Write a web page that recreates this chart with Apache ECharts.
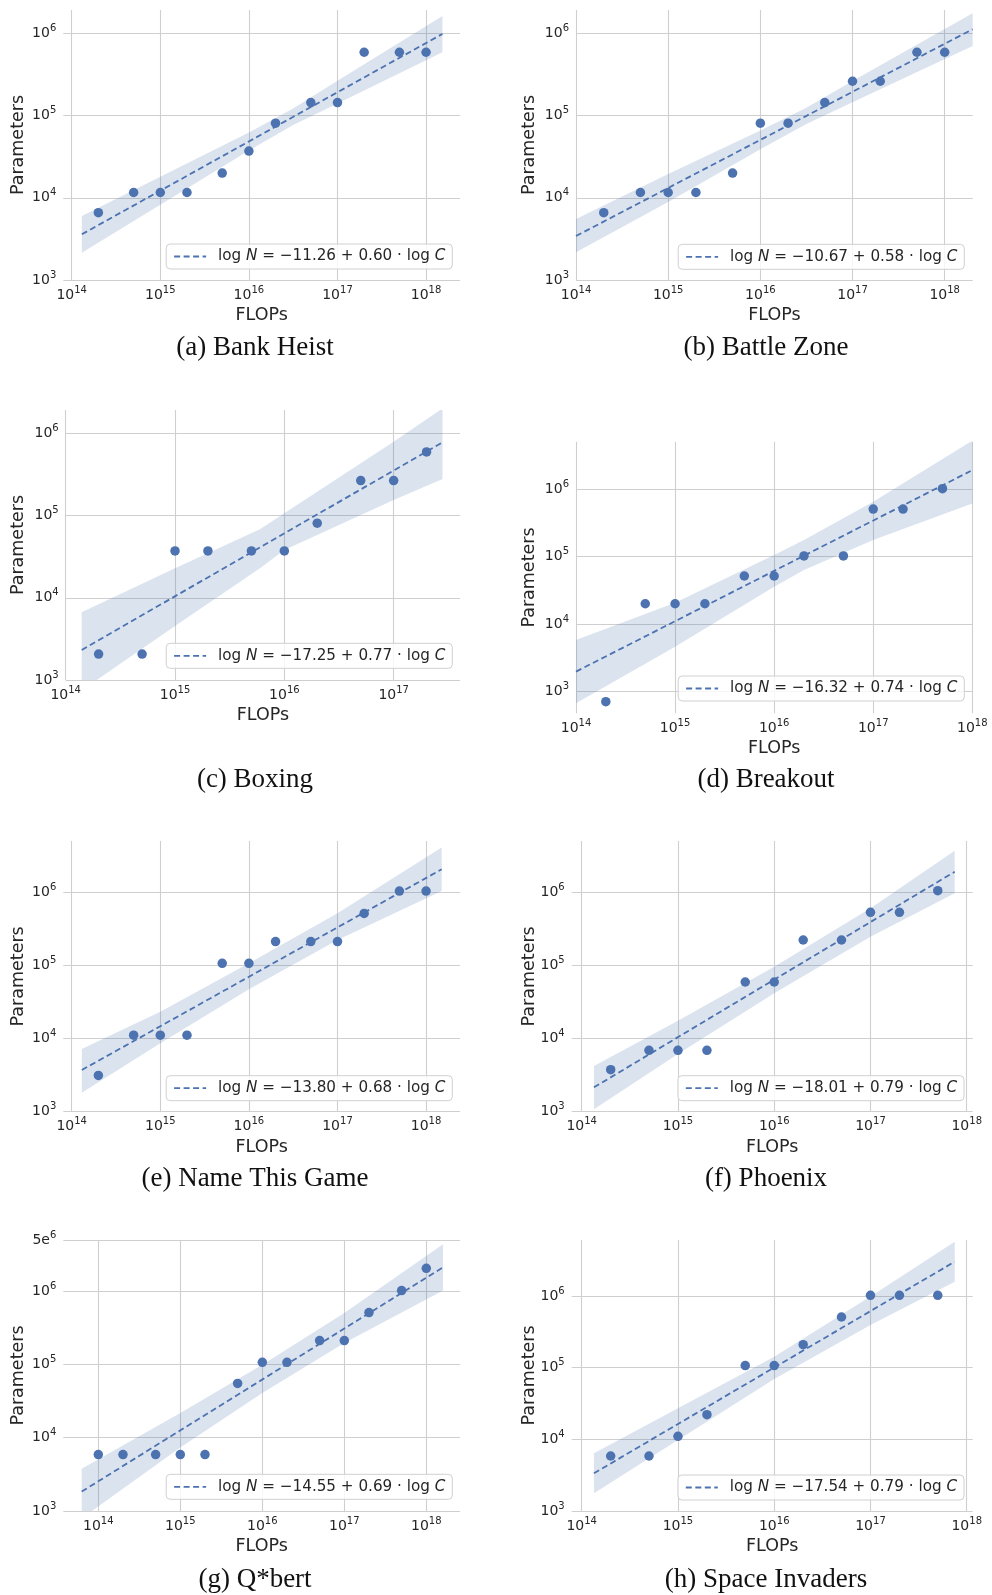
<!DOCTYPE html>
<html>
<head>
<meta charset="utf-8">
<script src="https://cdn.jsdelivr.net/npm/echarts@6.0.0/dist/echarts.min.js"></script>
<style>
html,body{margin:0;padding:0;background:#ffffff;}
#chart{width:992px;height:1595px;}
</style>
</head>
<body>
<div id="chart"></div>
<script>
// ---------------- DATA ----------------
const panelCaptions = ['(a) Bank Heist', '(b) Battle Zone', '(c) Boxing', '(d) Breakout',
  '(e) Name This Game', '(f) Phoenix', '(g) Q*bert', '(h) Space Invaders'];
const fitIntercepts = ['\u221211.26', '\u221210.67', '\u221217.25', '\u221216.32', '\u221213.80', '\u221218.01', '\u221214.55', '\u221217.54'];
const fitSlopes = ['0.60', '0.58', '0.77', '0.74', '0.68', '0.79', '0.69', '0.79'];

const pointFlops = [
  [2e14, 5e14, 1e15, 2e15, 5e15, 1e16, 2e16, 5e16, 1e17, 2e17, 5e17, 1e18],
  [2e14, 5e14, 1e15, 2e15, 5e15, 1e16, 2e16, 5e16, 1e17, 2e17, 5e17, 1e18],
  [2e14, 5e14, 1e15, 2e15, 5e15, 1e16, 2e16, 5e16, 1e17, 2e17],
  [2e14, 5e14, 1e15, 2e15, 5e15, 1e16, 2e16, 5e16, 1e17, 2e17, 5e17],
  [2e14, 5e14, 1e15, 2e15, 5e15, 1e16, 2e16, 5e16, 1e17, 2e17, 5e17, 1e18],
  [2e14, 5e14, 1e15, 2e15, 5e15, 1e16, 2e16, 5e16, 1e17, 2e17, 5e17],
  [1e14, 2e14, 5e14, 1e15, 2e15, 5e15, 1e16, 2e16, 5e16, 1e17, 2e17, 5e17, 1e18],
  [2e14, 5e14, 1e15, 2e15, 5e15, 1e16, 2e16, 5e16, 1e17, 2e17, 5e17]
];
const pointParams = [
  [6.6e3, 1.16e4, 1.16e4, 1.16e4, 2.0e4, 3.7e4, 8.1e4, 1.44e5, 1.44e5, 5.9e5, 5.9e5, 5.9e5],
  [6.6e3, 1.16e4, 1.16e4, 1.16e4, 2.0e4, 8.1e4, 8.1e4, 1.44e5, 2.62e5, 2.62e5, 5.9e5, 5.9e5],
  [2.07e3, 2.07e3, 3.72e4, 3.72e4, 3.72e4, 3.72e4, 8.1e4, 2.67e5, 2.67e5, 5.96e5],
  [7.1e2, 2.0e4, 2.0e4, 2.0e4, 5.15e4, 5.15e4, 1.02e5, 1.02e5, 5.05e5, 5.05e5, 1.01e6],
  [3.13e3, 1.11e4, 1.11e4, 1.11e4, 1.06e5, 1.06e5, 2.1e5, 2.1e5, 2.1e5, 5.1e5, 1.03e6, 1.03e6],
  [3.75e3, 6.88e3, 6.88e3, 6.88e3, 5.9e4, 5.9e4, 2.21e5, 2.21e5, 5.27e5, 5.27e5, 1.04e6],
  [5.9e3, 5.9e3, 5.9e3, 5.9e3, 5.9e3, 5.52e4, 1.07e5, 1.07e5, 2.12e5, 2.12e5, 5.11e5, 1.02e6, 2.05e6],
  [5.85e3, 5.85e3, 1.1e4, 2.21e4, 1.07e5, 1.07e5, 2.09e5, 5.09e5, 1.02e6, 1.02e6, 1.02e6]
];

const fitFlops = [
  [1.30e14, 1.53e18], [1.0e14, 2.01e18], [1.40e14, 2.8e17], [1.0e14, 9.62e17],
  [1.30e14, 1.5e18], [1.34e14, 7.5e17], [6.27e13, 1.6e18], [1.34e14, 7.5e17]
];
const fitParams = [
  [3.6e3, 9.86e5], [3.43e3, 1.125e6], [2.32e3, 7.8e5], [1.98e3, 1.845e6],
  [3.71e3, 2.04e6], [2.15e3, 1.89e6], [1.84e3, 2.12e6], [3.36e3, 3.01e6]
];

const bandFlops = [
  [1.30e14, 1e15, 1e16, 3.16e16, 1e17, 1.53e18],
  [1e14, 1e15, 1e16, 3.16e16, 1e17, 2.01e18],
  [1.40e14, 1e15, 5.98e15, 1e16, 1e17, 2.8e17],
  [1e14, 1e15, 1e16, 2e16, 1e17, 1e18],
  [1.30e14, 1e15, 1e16, 1e17, 1.5e18],
  [1.34e14, 1e15, 1e16, 1e17, 7.5e17],
  [6.27e13, 1e15, 1e16, 1e17, 1.6e18],
  [1.34e14, 1e15, 1e16, 1e17, 7.5e17]
];
const bandUpper = [
  [6.0e3, 1.81e4, 6.25e4, 1.22e5, 2.66e5, 1.63e6],
  [5.52e3, 1.95e4, 6.61e4, 1.25e5, 2.63e5, 1.76e6],
  [6.67e3, 2.29e4, 6.82e4, 1.07e5, 7.96e5, 2.02e6],
  [5.82e3, 2.07e4, 1.05e5, 1.76e5, 6.49e5, 5.19e6],
  [7.18e3, 2.32e4, 1.06e5, 5.11e5, 4.06e6],
  [4.21e3, 1.75e4, 9.55e4, 5.98e5, 3.66e6],
  [3.76e3, 2.17e4, 9.93e4, 5.06e5, 4.36e6],
  [6.38e3, 2.71e4, 1.42e5, 9.80e5, 5.73e6]
];
const bandLower = [
  [2.15e3, 8.26e3, 3.77e4, 7.69e4, 1.40e5, 5.9e5],
  [2.17e3, 8.91e3, 3.89e4, 7.89e4, 1.45e5, 7.05e5],
  [7.48e2, 4.54e3, 2.29e4, 3.82e4, 1.55e5, 2.79e5],
  [6.71e2, 4.63e3, 3.58e4, 6.32e4, 1.76e5, 6.12e5],
  [1.82e3, 8.57e3, 4.68e4, 2.21e5, 1.03e6],
  [1.08e3, 6.12e3, 4.13e4, 2.45e5, 9.57e5],
  [7.94e2, 7.35e3, 4.07e4, 1.97e5, 1.02e6],
  [1.77e3, 9.80e3, 6.95e4, 3.94e5, 1.585e6]
];

const xTickValues = [
  [1e14, 1e15, 1e16, 1e17, 1e18], [1e14, 1e15, 1e16, 1e17, 1e18],
  [1e14, 1e15, 1e16, 1e17], [1e14, 1e15, 1e16, 1e17, 1e18],
  [1e14, 1e15, 1e16, 1e17, 1e18], [1e14, 1e15, 1e16, 1e17, 1e18],
  [1e14, 1e15, 1e16, 1e17, 1e18], [1e14, 1e15, 1e16, 1e17, 1e18]
];
const yTickValues = [
  [1e3, 1e4, 1e5, 1e6], [1e3, 1e4, 1e5, 1e6], [1e3, 1e4, 1e5, 1e6], [1e3, 1e4, 1e5, 1e6],
  [1e3, 1e4, 1e5, 1e6], [1e3, 1e4, 1e5, 1e6], [1e3, 1e4, 1e5, 1e6, 5e6], [1e3, 1e4, 1e5, 1e6]
];

// ---------------- LAYOUT ----------------
const gridBoxes = [
  [63.3, 10, 396.7, 270], [576, 10, 396.7, 270],
  [65.7, 410, 394.3, 270], [576, 441.7, 396.3, 271.6],
  [63.3, 841, 396.7, 270.7], [571.7, 841, 401, 270.7],
  [63.3, 1240, 396.7, 271], [571.7, 1240, 401, 271]
];
const xLogRange = [[13.905, 18.383], [14, 18.304], [14, 17.607], [14, 18],
  [13.905, 18.383], [13.896, 18.062], [13.573, 18.411], [13.896, 18.062]];
const yLogRange = [[3, 6.285], [3, 6.285], [3, 6.286], [2.679, 6.700],
  [3, 6.696], [3, 6.696], [3, Math.log10(5e6)], [3, 6.781]];
const yNameGap = [36, 37.7, 38.4, 37.7, 36, 33.4, 36, 33.4];
const legendRightTop = [[539.7, 244], [27.7, 244.3], [539.7, 643.3], [27.7, 676],
  [539.7, 1075.7], [28, 1075.7], [539.7, 1474.3], [28, 1475]];
const captionAt = [[255, 348], [766, 348], [255, 780], [766, 780],
  [255, 1179], [766, 1179], [255, 1580], [766, 1580]];

const BLUE = '#4c72b0';
const BAND = 'rgba(76,114,176,0.2)';
const GRIDC = '#cfcfcf';
const TXT = '#262626';
const FONT = "'DejaVu Sans', sans-serif";

function tickLabel(v, allowed) {
  if (!(v > 0)) return '';
  const e = Math.log10(v);
  for (const a of allowed) {
    const ea = Math.log10(a);
    if (Math.abs(e - ea) < 1e-4) {
      const r = Math.round(ea);
      if (Math.abs(ea - r) < 1e-9) return '{b|10}{s|' + r + '}';
      const ex = Math.floor(ea);
      const m = Math.round(a / Math.pow(10, ex));
      return '{b|' + m + 'e}{s|' + ex + '}';
    }
  }
  return '';
}
const tickRich = {
  b: { fontSize: 14, fontFamily: FONT, color: TXT, lineHeight: 20 },
  s: { fontSize: 10, fontFamily: FONT, color: TXT, lineHeight: 10, verticalAlign: 'top' }
};

const legendNames = fitIntercepts.map((c, i) => 'log N = ' + c + ' + ' + fitSlopes[i] + ' \u00b7 log C');

const grids = [], xAxes = [], yAxes = [], series = [], legends = [], graphics = [];

for (let i = 0; i < 8; i++) {
  const g = gridBoxes[i];
  grids.push({ left: g[0], top: g[1], width: g[2], height: g[3], containLabel: false, outerBoundsMode: 'none', show: false });
  xAxes.push({
    type: 'log', logBase: 10, gridIndex: i,
    min: Math.pow(10, xLogRange[i][0]), max: Math.pow(10, xLogRange[i][1]),
    splitNumber: 5,
    axisLine: { show: false }, axisTick: { show: false },
    splitLine: { show: false }, minorTick: { show: false }, minorSplitLine: { show: false },
    axisLabel: { margin: 5, showMinLabel: true, showMaxLabel: true, hideOverlap: false,
      fontSize: 14, fontFamily: FONT, color: TXT,
      formatter: (v) => tickLabel(v, xTickValues[i]), rich: tickRich },
    name: 'FLOPs', nameLocation: 'middle', nameGap: 26.5, nameMoveOverlap: false,
    nameTextStyle: { fontSize: 17.5, fontFamily: FONT, color: TXT }
  });
  yAxes.push({
    type: 'log', logBase: 10, gridIndex: i,
    min: Math.pow(10, yLogRange[i][0]), max: Math.pow(10, yLogRange[i][1]),
    splitNumber: 5,
    axisLine: { show: false }, axisTick: { show: false },
    splitLine: { show: false }, minorTick: { show: false }, minorSplitLine: { show: false },
    axisLabel: { margin: 7, showMinLabel: true, showMaxLabel: true, hideOverlap: false,
      fontSize: 14, fontFamily: FONT, color: TXT,
      formatter: (v) => tickLabel(v, yTickValues[i]), rich: tickRich },
    name: 'Parameters', nameLocation: 'middle', nameGap: yNameGap[i], nameMoveOverlap: false,
    nameTextStyle: { fontSize: 17.5, fontFamily: FONT, color: TXT }
  });

  // confidence band
  series.push({
    type: 'custom', xAxisIndex: i, yAxisIndex: i, z: 1, clip: true, silent: true,
    data: bandFlops[i].map((x, k) => [x, bandUpper[i][k], bandLower[i][k]]),
    encode: { x: 0, y: [1, 2] },
    renderItem: function (params, api) {
      if (params.dataIndex !== 0) return null;
      const pts = [];
      for (let k = 0; k < bandFlops[i].length; k++) pts.push(api.coord([bandFlops[i][k], bandUpper[i][k]]));
      for (let k = bandFlops[i].length - 1; k >= 0; k--) pts.push(api.coord([bandFlops[i][k], bandLower[i][k]]));
      return { type: 'polygon', shape: { points: pts }, style: { fill: BAND, stroke: null } };
    }
  });
  // fit line
  series.push({
    type: 'line', name: legendNames[i], xAxisIndex: i, yAxisIndex: i, z: 2, silent: true,
    data: fitFlops[i].map((x, k) => [x, fitParams[i][k]]),
    symbol: 'none', showSymbol: false,
    lineStyle: { color: BLUE, width: 1.8, type: [6, 3.5] },
    itemStyle: { color: BLUE }
  });
  // points + gridlines
  series.push({
    type: 'scatter', xAxisIndex: i, yAxisIndex: i, z: 3, silent: true,
    data: pointFlops[i].map((x, k) => [x, pointParams[i][k]]),
    symbolSize: 9.5, itemStyle: { color: BLUE, opacity: 1 },
    markLine: {
      silent: true, z: 0, symbol: ['none', 'none'], animation: false,
      label: { show: false }, emphasis: { disabled: true },
      lineStyle: { color: GRIDC, width: 1.1, type: 'solid', opacity: 1 },
      data: xTickValues[i].map(v => ({ xAxis: v })).concat(yTickValues[i].map(v => ({ yAxis: v })))
    }
  });

  legends.push({
    data: [legendNames[i]], right: legendRightTop[i][0], top: legendRightTop[i][1],
    orient: 'horizontal', selectedMode: false,
    itemWidth: 32, itemHeight: 14, padding: [5, 7, 5, 7],
    backgroundColor: 'rgba(255,255,255,0.8)', borderColor: '#d0d0d0', borderWidth: 1, borderRadius: 4,
    itemStyle: { opacity: 0, color: 'rgba(0,0,0,0)', borderWidth: 0 },
    lineStyle: { color: BLUE, width: 1.8, type: [6, 3.5], opacity: 1 },
    formatter: () => '{sp| }{t|log }{i|N}{t| = ' + fitIntercepts[i] + ' + ' + fitSlopes[i] + ' \u00b7 log }{i|C}',
    textStyle: {
      fontSize: 15.2, fontFamily: FONT, color: TXT,
      rich: {
        sp: { width: 7 },
        t: { fontSize: 15.2, fontFamily: FONT, color: TXT, lineHeight: 18 },
        i: { fontSize: 15.2, fontFamily: FONT, color: TXT, lineHeight: 18, fontStyle: 'italic' }
      }
    }
  });

  graphics.push({
    type: 'text', x: captionAt[i][0], y: captionAt[i][1], silent: true,
    style: {
      text: panelCaptions[i], fontSize: 27, fontFamily: "'Liberation Serif', 'DejaVu Serif', serif",
      fill: '#111111', align: 'center', verticalAlign: 'middle', textAlign: 'center', textVerticalAlign: 'middle'
    }
  });
}

const chart = echarts.init(document.getElementById('chart'), null, { renderer: 'canvas' });
chart.setOption({
  animation: false,
  backgroundColor: '#ffffff',
  grid: grids, xAxis: xAxes, yAxis: yAxes, series: series, legend: legends,
  graphic: graphics
});
</script>
</body>
</html>
